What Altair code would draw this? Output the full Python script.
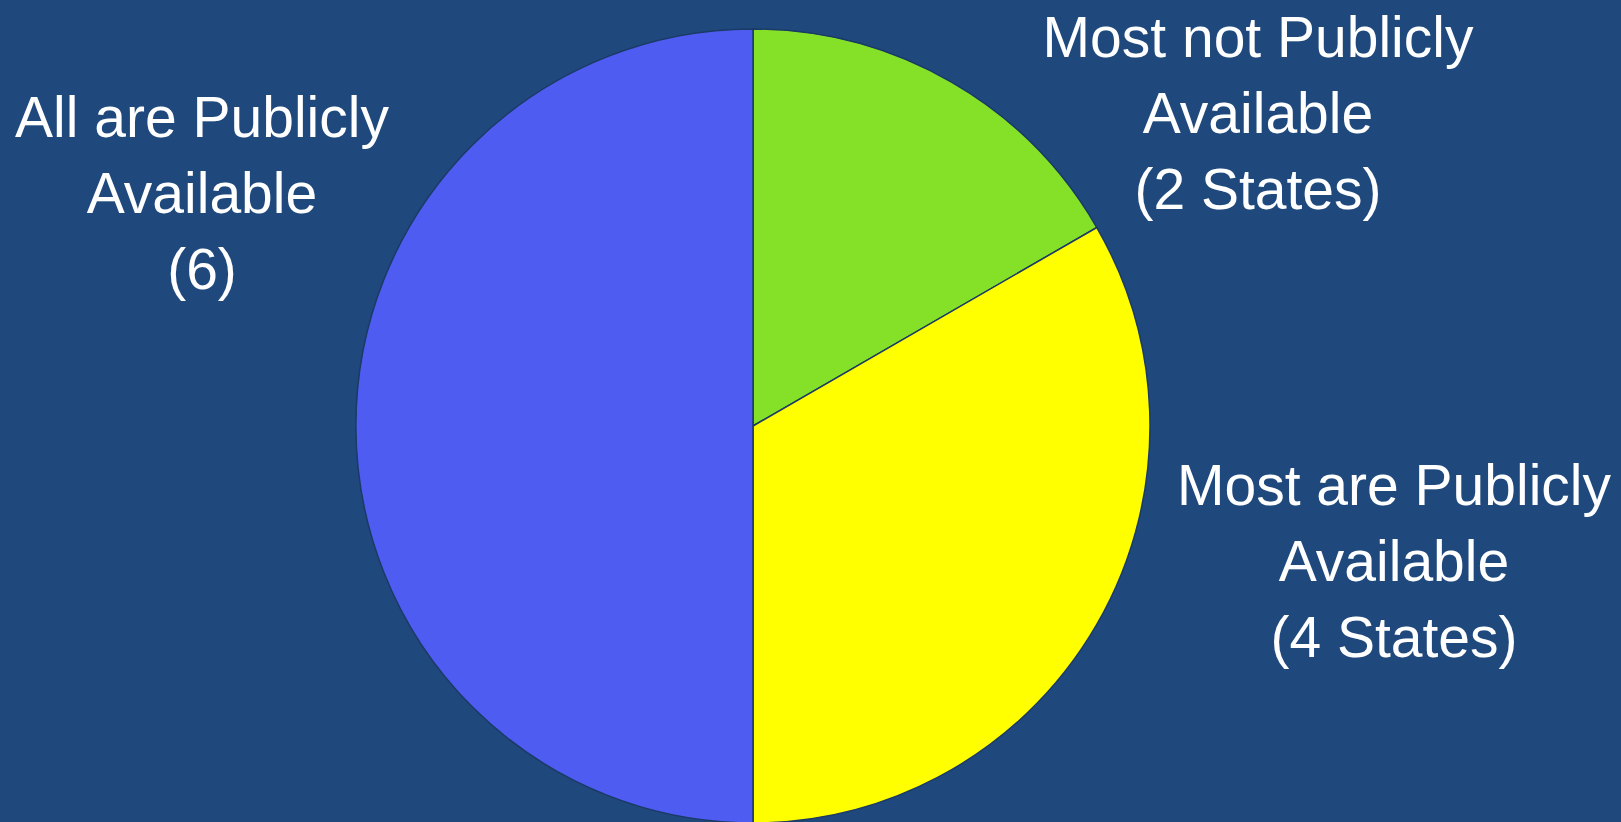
import altair as alt
import pandas as pd

categories = ["Most not Publicly Available", "Most are Publicly Available", "All are Publicly Available"]
counts = [2, 4, 6]
order = [1, 2, 3]
colors = ["#84E128", "#FFFF00", "#4F5CF2"]
label_texts = [
    "Most not Publicly\nAvailable\n(2 States)",
    "Most are Publicly\nAvailable\n(4 States)",
    "All are Publicly\nAvailable\n(6)",
]

df = pd.DataFrame({"category": categories, "count": counts, "order": order, "label": label_texts})

FONT = "Liberation Sans Narrow, Arial Narrow, Liberation Sans, sans-serif"

pie = alt.Chart(df).mark_arc(
    outerRadius=397, stroke="#1B3A66", strokeWidth=1.5
).encode(
    theta=alt.Theta("count:Q", stack=True),
    order=alt.Order("order:Q"),
    color=alt.Color("category:N", scale=alt.Scale(domain=categories, range=colors), legend=None),
    x=alt.value(753),
    y=alt.value(426),
)

positions = {
    "Most not Publicly Available": (1258, 57),
    "Most are Publicly Available": (1394, 505),
    "All are Publicly Available": (202, 137),
}

layers = [pie]
for cat in categories:
    px, py = positions[cat]
    layers.append(
        alt.Chart(df).transform_filter(alt.datum.category == cat).mark_text(
            x=px, y=py, align="center", baseline="alphabetic", lineBreak="\n",
            lineHeight=76, fontSize=57, font=FONT, color="white"
        ).encode(text="label:N")
    )

chart = alt.layer(*layers).properties(
    width=1621, height=822, background="#1F497D",
    autosize=alt.AutoSizeParams(type="none"), padding=0
).configure_view(stroke=None)

chart.save("out.html", embed_options={"renderer": "svg", "actions": False})
